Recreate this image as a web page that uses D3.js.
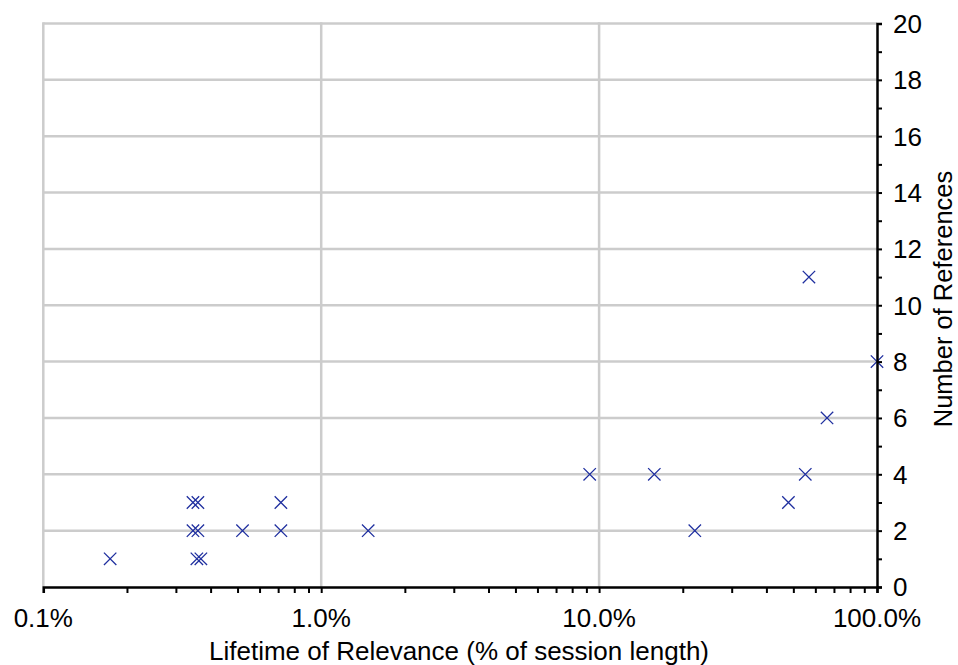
<!DOCTYPE html>
<html>
<head>
<meta charset="utf-8">
<script src="https://cdn.jsdelivr.net/npm/d3@7"></script>
<style>
  html, body { margin: 0; padding: 0; background: #fff; }
  svg { display: block; }
  text { font-family: "Liberation Sans", Arial, Helvetica, sans-serif; fill: #000; }
</style>
</head>
<body>
<svg id="chart" width="958" height="665"></svg>
<script>
// Lifetime of relevance (% of session length)
const lifetimePct = [0.174, 0.3456, 0.360, 0.3456, 0.360, 0.357, 0.369, 0.521, 0.716, 0.716, 1.476,
                     9.25, 15.8, 22.1, 48.0, 55.2, 56.9, 66.1, 100];
// Number of references
const references = [1, 3, 3, 2, 2, 1, 1, 2, 2, 3, 2,
                    4, 4, 2, 3, 4, 11, 6, 8];
const xTickValues = [0.1, 1, 10, 100];
const xTickLabels = ["0.1%", "1.0%", "10.0%", "100.0%"];
const yTickValues = [0, 2, 4, 6, 8, 10, 12, 14, 16, 18, 20];
const xTitle = "Lifetime of Relevance (% of session length)";
const yTitle = "Number of References";

const W = 958, H = 665;
const m = { left: 43.3, right: 81, top: 23.5, bottom: 78 };
const svg = d3.select("#chart");

const x = d3.scaleLog().domain([0.1, 100]).range([m.left, W - m.right]);
const y = d3.scaleLinear().domain([0, 20]).range([H - m.bottom, m.top]);

const fontSize = 26;
const grid = svg.append("g");
// horizontal gridlines
grid.selectAll("line.h").data(yTickValues.filter(v => v > 0)).join("line")
  .attr("x1", x(0.1)).attr("x2", x(100))
  .attr("y1", d => y(d)).attr("y2", d => y(d))
  .attr("stroke", "#cccccc").attr("stroke-width", 2.5);
// vertical gridlines
grid.selectAll("line.v").data([0.1, 1, 10]).join("line")
  .attr("x1", d => x(d)).attr("x2", d => x(d))
  .attr("y1", y(20) - 1.2).attr("y2", y(0))
  .attr("stroke", "#cccccc").attr("stroke-width", 2.5);

// markers
const pts = lifetimePct.map((v, i) => ({ x: v, y: references[i] }));
const s = 6.2;
const mk = svg.append("g").attr("stroke", "#1f2f9f").attr("stroke-width", 1.3).attr("fill", "none");
mk.selectAll("path").data(pts).join("path")
  .attr("d", d => {
    const cx = x(d.x), cy = y(d.y);
    return `M${cx - s},${cy - s}L${cx + s},${cy + s}M${cx - s},${cy + s}L${cx + s},${cy - s}`;
  });

// X axis
const xMinor = [];
for (let dec = 0.1; dec < 100; dec *= 10) for (let k = 1; k <= 9; k++) xMinor.push(+(dec * k).toPrecision(3));
xMinor.push(100);
const xAxis = d3.axisBottom(x).tickValues(xMinor).tickSize(6).tickFormat(() => "");
const gx = svg.append("g").attr("transform", `translate(0,${y(0)})`).call(xAxis);
gx.select(".domain").attr("stroke", "#000").attr("stroke-width", 2.5);
gx.selectAll(".tick line").attr("stroke", "#000").attr("stroke-width", 2);
svg.append("g").selectAll("text").data(xTickValues).join("text")
  .attr("x", d => x(d)).attr("y", y(0) + 40)
  .attr("text-anchor", "middle").attr("font-size", fontSize)
  .text((d, i) => xTickLabels[i]);

// Y axis (right)
const yAxis = d3.axisRight(y).tickValues(d3.range(0, 21)).tickSize(5).tickFormat(() => "");
const gy = svg.append("g").attr("transform", `translate(${x(100)},0)`).call(yAxis);
gy.select(".domain").attr("stroke", "#000").attr("stroke-width", 2.5);
gy.selectAll(".tick line").attr("stroke", "#000").attr("stroke-width", 2);
svg.append("g").selectAll("text").data(yTickValues).join("text")
  .attr("x", x(100) + 16).attr("y", d => y(d)).attr("dy", "0.36em")
  .attr("text-anchor", "start").attr("font-size", fontSize)
  .text(d => d);

// titles
svg.append("text").attr("x", 459).attr("y", 660)
  .attr("text-anchor", "middle").attr("font-size", fontSize).text(xTitle);
svg.append("text")
  .attr("transform", `translate(952,${299}) rotate(-90)`)
  .attr("text-anchor", "middle").attr("font-size", 25.5).text(yTitle);
</script>
</body>
</html>
